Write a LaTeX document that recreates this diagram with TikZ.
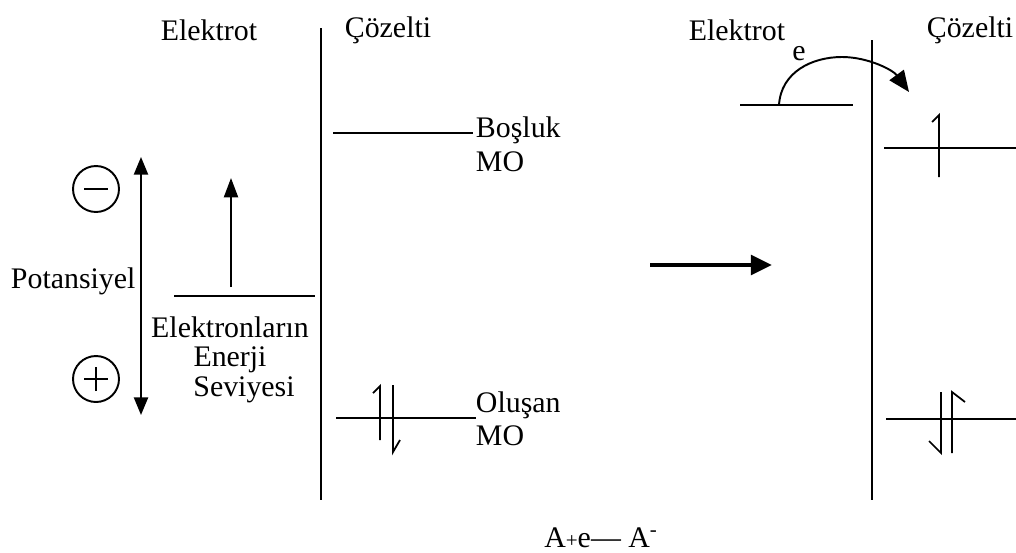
\documentclass[tikz,border=0pt]{standalone}
\usepackage{fontspec}
\setmainfont{Liberation Serif}
\usepackage{tikz}
\usetikzlibrary{arrows.meta}

\begin{document}
\begin{tikzpicture}[x=0.02cm, y=-0.02cm, line width=1.1pt,
  font=\fontsize{17}{20}\selectfont,
  lbl/.style={inner sep=0pt},
  spin/.style={line width=1pt, line join=miter},
  tip/.style={-{Triangle[length=11pt,width=8pt]}}]
\useasboundingbox (0,0) rectangle (1016,552);

% left panel: electrode / solution
\node[lbl] (elL) at (209,30) {Elektrot};
\node[lbl] (czL) at (388,30) {Çözelti};
\draw (321,28) -- (321,500);

% potential axis
\node[lbl, anchor=west] (pot) at (10,281) {Potansiyel};
\draw[{Triangle[length=10pt,width=8pt]}-{Triangle[length=10pt,width=8pt]}] (141,157) -- (141,415);
\node[draw, circle, inner sep=0pt, minimum size=0.92cm] (neg) at (96,189) {};
\draw ([xshift=-0.24cm]neg.center) -- ([xshift=0.24cm]neg.center);
\node[draw, circle, inner sep=0pt, minimum size=0.92cm] (pos) at (96,379) {};
\draw ([xshift=-0.24cm]pos.center) -- ([xshift=0.24cm]pos.center);
\draw ([yshift=-0.24cm]pos.center) -- ([yshift=0.24cm]pos.center);

% Fermi level of the electrode
\draw (174,296) -- (315,296);
\draw[tip] (231,287) -- (231,178);
\node[lbl] (el1) at (230,327) {Elektronların};
\node[lbl] (el2) at (230,360) {Enerji};
\node[lbl] (el3) at (244,390) {Seviyesi};

% empty and filled MO
\draw (333,133) -- (473,133);
\node[lbl, anchor=west] (bos) at (475,130) {Boşluk};
\node[lbl, anchor=west] (bosmo) at (475,162) {MO};
\draw (336,418) -- (476,418);
\draw[spin] (373,393) -- (380,386) -- (380,440);
\draw[spin] (393,385) -- (393,452) -- (400,440);
\node[lbl, anchor=west] (olu) at (475,405) {Oluşan};
\node[lbl, anchor=west] (olumo) at (475,436) {MO};

% reaction arrow
\draw[line width=2.4pt, -{Triangle[length=12pt,width=11pt]}] (650,265) -- (772,265);

% right panel
\node[lbl] (elR) at (737,30) {Elektrot};
\node[lbl] (czR) at (970,30) {Çözelti};
\draw (872,40) -- (872,500);
\draw (740,105) -- (853,105);
\draw[-{Triangle[length=12pt,width=10pt]}] (779,105) .. controls (781,72) and (812,57) .. (842,57)
  .. controls (868,57) and (893,70) .. (909,92);
\node[lbl] (e) at (799,54) {e};
\draw (884,148) -- (1016,148);
\draw[spin] (932,122) -- (939,115) -- (939,177);
\draw (886,419) -- (1016,419);
\draw[spin] (941,392) -- (941,453) -- (929,441);
\draw[spin] (952,453) -- (952,392) -- (965,402);

% reaction
\node[lbl] (rxn) at (601,538) {A{\fontsize{12}{12}\selectfont+}e--- A\textsuperscript{-}};
\end{tikzpicture}
\end{document}
